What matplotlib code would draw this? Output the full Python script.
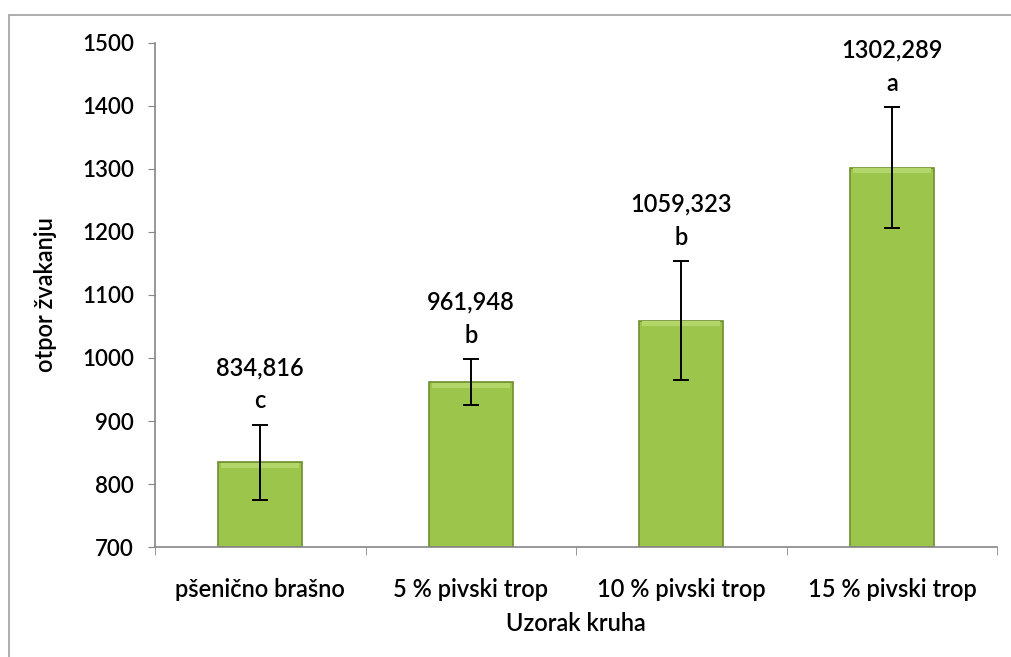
import numpy as np
import matplotlib.pyplot as plt
from matplotlib.patches import Rectangle

plt.rcParams["font.family"] = ["Lato", "DejaVu Sans"]
plt.rcParams["font.weight"] = "semibold"
plt.rcParams["axes.labelweight"] = "semibold"

categories = ["pšenično brašno", "5 % pivski trop", "10 % pivski trop", "15 % pivski trop"]
values = [834.816, 961.948, 1059.323, 1302.289]
errors = [59.5, 36.5, 95.0, 96.5]
letters = ["c", "b", "b", "a"]
value_labels = ["834,816", "961,948", "1059,323", "1302,289"]
yticks = [700, 800, 900, 1000, 1100, 1200, 1300, 1400, 1500]

GRAY = "#868686"


def main():
	fig = plt.figure(figsize=(10.11, 6.57), dpi=100)
	ax = fig.add_axes([0.1533, 0.1674, 0.833, 0.7672])

	# outer chart frame (cropped at right / bottom like the reference)
	fig.patches.append(Rectangle((9 / 1011, -0.5), 2, 1.5 - 15 / 657,
		transform=fig.transFigure, fill=False, edgecolor="#a0a0a0", lw=1.2))

	x = np.arange(len(categories))
	base = 700
	heights = np.array(values) - base
	ax.bar(x, heights, bottom=base, width=0.40, color="#9cc64b",
		edgecolor="#6f8d2e", lw=1.2, zorder=2)
	# light bevel on top of each bar
	ax.bar(x, np.full(len(x), 8.0), bottom=np.array(values) - 9.0, width=0.37,
		color="#b2d66a", lw=0, zorder=2.5)
	ax.errorbar(x, values, yerr=errors, fmt="none", ecolor="black",
		elinewidth=1.4, capsize=6, capthick=1.4, zorder=3)

	for xi, v, e, let, lab in zip(x, values, errors, letters, value_labels):
		ax.annotate(let, (xi, v + e), xytext=(0, 17), textcoords="offset points",
			ha="center", va="center", fontsize=17)
		ax.annotate(lab, (xi, v + e), xytext=(0, 41), textcoords="offset points",
			ha="center", va="center", fontsize=17)

	ax.set_ylim(700, 1500)
	ax.set_xlim(-0.5, len(categories) - 0.5)
	ax.set_yticks(yticks)
	ax.set_yticklabels([str(t) for t in yticks], fontsize=16)

	ax.set_xticks(x)
	ax.set_xticklabels(categories, fontsize=17)
	ax.tick_params(axis="x", length=0, pad=22)
	ax.set_xticks(np.arange(len(categories) + 1) - 0.5, minor=True)
	ax.tick_params(axis="x", which="minor", length=6, color=GRAY, direction="out")
	ax.tick_params(axis="y", length=5, color=GRAY, direction="out", pad=10)

	for s in ["top", "right"]:
		ax.spines[s].set_visible(False)
	for s in ["left", "bottom"]:
		ax.spines[s].set_color(GRAY)
		ax.spines[s].set_linewidth(1.2)

	ax.set_xlabel("Uzorak kruha", fontsize=17, labelpad=8)
	ax.set_ylabel("otpor žvakanju", fontsize=17, labelpad=18)

	plt.savefig("out.png", dpi=100)


if __name__ == "__main__":
	main()
